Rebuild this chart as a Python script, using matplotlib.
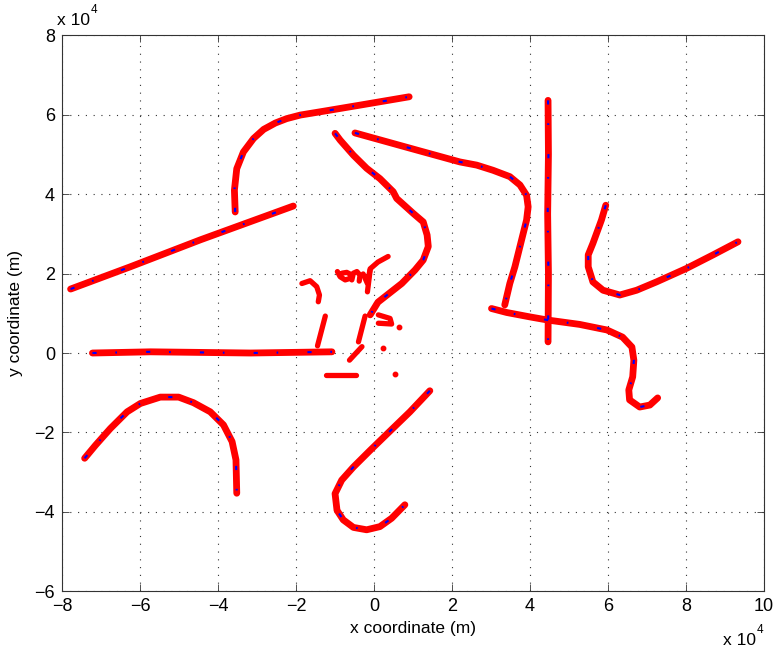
import matplotlib
matplotlib.use("Agg")
import matplotlib.pyplot as plt
from matplotlib.ticker import FixedLocator, FuncFormatter

plt.rcParams['font.family'] = ['Liberation Sans', 'DejaVu Sans']

# ---- data (units of 10^4 m) ----
track_a_x = [-7.42, -7.14, -6.76, -6.33, -5.99, -5.48, -5.01, -4.63, -4.20, -3.86, -3.64, -3.54, -3.53, -3.52]
track_a_y = [-2.65, -2.32, -1.90, -1.48, -1.27, -1.11, -1.11, -1.25, -1.48, -1.81, -2.23, -2.69, -3.11, -3.53]

track_b_x = [-7.22, -5.73, -3.17, -1.08]
track_b_y = [0.00, 0.03, 0.00, 0.03]

track_c_x = [-7.78, -6.25, -4.45, -2.07]
track_c_y = [1.61, 2.17, 2.85, 3.70]

track_d_x = [-3.56, -3.58, -3.52, -3.35, -3.09, -2.83, -2.53, -2.24, -1.89, -1.21, -0.36, 0.90]
track_d_y = [3.55, 4.10, 4.64, 5.06, 5.40, 5.63, 5.79, 5.90, 5.99, 6.10, 6.24, 6.45]

track_e_x = [-1.00, -0.87, -0.53, -0.19, 0.15, 0.49, 0.58, 1.01, 1.26, 1.36, 1.39, 1.26, 1.05, 0.71, 0.10, -0.10]
track_e_y = [5.53, 5.36, 4.98, 4.65, 4.39, 4.06, 3.89, 3.51, 3.30, 2.97, 2.68, 2.34, 2.09, 1.75, 1.28, 0.96]

track_f_x = [1.43, 0.92, 0.33, -0.10, -0.53, -0.83, -1.00, -0.95, -0.79, -0.53, -0.19, 0.15, 0.45, 0.79]
track_f_y = [-0.95, -1.48, -2.04, -2.45, -2.87, -3.20, -3.54, -3.96, -4.20, -4.39, -4.45, -4.37, -4.16, -3.82]

track_g_x = [-0.49, 1.09, 2.20, 2.63, 3.05, 3.48, 3.74, 3.91, 3.95, 3.91, 3.78, 3.61, 3.48, 3.35]
track_g_y = [5.54, 5.11, 4.81, 4.73, 4.60, 4.44, 4.23, 3.97, 3.68, 3.35, 2.84, 2.17, 1.75, 1.21]

track_h_x = [4.46, 4.47, 4.45, 4.47, 4.46]
track_h_y = [6.36, 5.00, 3.50, 2.00, 0.28]

track_i_x = [3.01, 3.40, 3.99, 4.45, 5.27, 5.97, 6.37, 6.61, 6.66, 6.63, 6.53, 6.55, 6.81, 7.07, 7.27]
track_i_y = [1.12, 1.02, 0.91, 0.83, 0.72, 0.58, 0.40, 0.15, -0.18, -0.60, -0.93, -1.18, -1.36, -1.31, -1.13]

track_j_x = [5.94, 5.83, 5.61, 5.49, 5.49, 5.61, 5.87, 6.30, 6.73, 7.24, 8.01, 8.69, 9.33]
track_j_y = [3.72, 3.35, 2.76, 2.47, 2.17, 1.79, 1.58, 1.46, 1.58, 1.79, 2.13, 2.47, 2.80]

# short fragments near the centre (red only)
frag_arc_x = [-1.85, -1.64, -1.47, -1.40, -1.43]
frag_arc_y = [1.75, 1.82, 1.67, 1.46, 1.29]
frag_line1_x = [-1.25, -1.45]
frag_line1_y = [0.93, 0.18]
frag_hline_x = [-1.23, -0.46]
frag_hline_y = [-0.55, -0.55]
frag_loop_x = [-0.94, -0.87, -0.74, -0.61, -0.60, -0.70, -0.82]
frag_loop_y = [2.05, 1.92, 1.84, 1.88, 1.98, 2.03, 2.01]
frag_n_x = [-0.57, -0.53, -0.44, -0.36, -0.38]
frag_n_y = [1.84, 2.01, 2.05, 1.96, 1.81]
frag_v_x = [-0.28, -0.17, -0.10, 0.10, 0.36]
frag_v_y = [1.99, 1.75, 2.12, 2.29, 2.43]
frag_vert_x = [-0.10, -0.17]
frag_vert_y = [2.09, 1.54]
frag_l1_x = [-0.23, -0.40]
frag_l1_y = [0.93, 0.28]
frag_l2_x = [-0.31, -0.63]
frag_l2_y = [0.16, -0.18]
frag_u_x = [0.11, 0.41, 0.45, 0.11]
frag_u_y = [0.96, 0.87, 0.73, 0.75]
dots_x = [0.65, 0.24, 0.54]
dots_y = [0.66, 0.12, -0.53]

x_ticks = [-8, -6, -4, -2, 0, 2, 4, 6, 8, 10]
y_ticks = [-6, -4, -2, 0, 2, 4, 6, 8]

tracks = [
    (track_a_x, track_a_y), (track_b_x, track_b_y), (track_c_x, track_c_y),
    (track_d_x, track_d_y), (track_e_x, track_e_y), (track_f_x, track_f_y),
    (track_g_x, track_g_y), (track_h_x, track_h_y), (track_i_x, track_i_y),
    (track_j_x, track_j_y),
]
fragments = [
    (frag_arc_x, frag_arc_y), (frag_line1_x, frag_line1_y), (frag_hline_x, frag_hline_y),
    (frag_loop_x, frag_loop_y), (frag_n_x, frag_n_y), (frag_v_x, frag_v_y),
    (frag_vert_x, frag_vert_y), (frag_l1_x, frag_l1_y), (frag_l2_x, frag_l2_y),
    (frag_u_x, frag_u_y),
]

fig = plt.figure(figsize=(7.75, 6.52), dpi=100)
ax = fig.add_axes([0.080, 0.093, 0.906, 0.853])

RED = '#ff0000'
BLUE = '#0000ff'
for tx, ty in tracks:
    ax.plot(tx, ty, color=BLUE, lw=0.9, zorder=2)
    ax.plot(tx, ty, color=RED, lw=4.9, solid_capstyle='round', solid_joinstyle='round', zorder=3)
    ax.plot(tx, ty, color=BLUE, lw=1.5, linestyle=(0, (2.0, 9, 0.8, 14)), zorder=4)
for fx, fy in fragments:
    ax.plot(fx, fy, color=RED, lw=3.8, solid_capstyle='round', solid_joinstyle='round', zorder=3)
ax.plot(dots_x, dots_y, 'o', color=RED, ms=3.2, mec=RED, zorder=3)

ax.set_xlim(-8, 10)
ax.set_ylim(-6, 8)
ax.xaxis.set_major_locator(FixedLocator(x_ticks))
ax.yaxis.set_major_locator(FixedLocator(y_ticks))
ax.xaxis.set_major_formatter(FuncFormatter(lambda v, p: f"{int(v)}".replace('-', '\u2212')))
ax.yaxis.set_major_formatter(FuncFormatter(lambda v, p: f"{int(v)}".replace('-', '\u2212')))

ax.grid(True, color='#333333', linestyle=(0, (1, 6)), linewidth=0.8)
ax.set_axisbelow(True)
ax.tick_params(direction='in', length=5, width=0.6, top=True, right=True,
               labelsize=13, pad=5, color='#333333')
for s in ax.spines.values():
    s.set_color('#333333')
    s.set_linewidth(0.8)

ax.set_xlabel('x coordinate (m)', fontsize=12.5, labelpad=4)
ax.set_ylabel('y coordinate (m)', fontsize=12.5, labelpad=8)

# MATLAB-style exponent labels
fig.text(57 / 775, 1 - 25 / 652, 'x 10', fontsize=12.5, ha='left', va='baseline')
fig.text(91 / 775, 1 - 13 / 652, '4', fontsize=8.5, ha='left', va='baseline')
fig.text(723 / 775, 1 - 645 / 652, 'x 10', fontsize=12.5, ha='left', va='baseline')
fig.text(757 / 775, 1 - 633 / 652, '4', fontsize=8.5, ha='left', va='baseline')

fig.savefig('out.png', dpi=100, facecolor='white')
